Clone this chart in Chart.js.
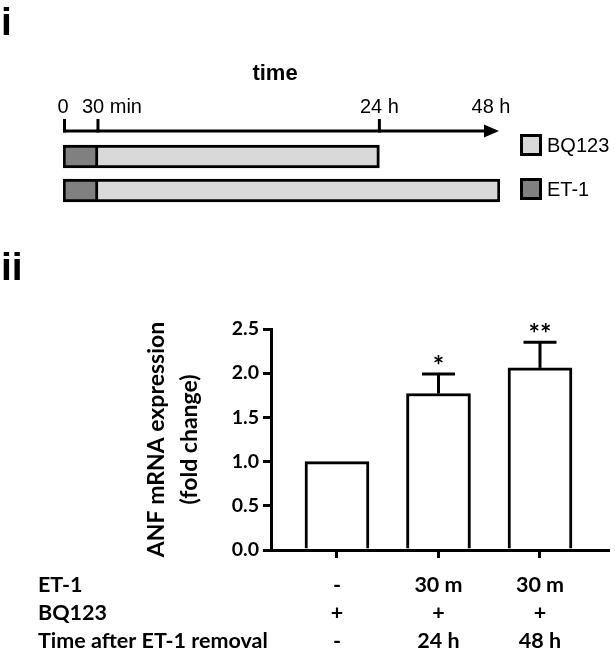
<!DOCTYPE html>
<html><head><meta charset="utf-8">
<script src="https://cdn.jsdelivr.net/npm/chart.js@4.4.1/dist/chart.umd.min.js"></script>
<style>
html,body{margin:0;padding:0;background:#fff;}
#wrap{position:relative;width:615px;height:653px;overflow:hidden;background:#fff;}
#cA{position:absolute;left:0;top:0;}
#cB{position:absolute;left:0;top:240px;}
</style></head><body>
<div id="wrap"><canvas id="cA" width="615" height="240"></canvas><canvas id="cB" width="615" height="413"></canvas></div>
<script>
// ---------- Panel i: treatment schedule ----------
const timeTicks = [0, 0.5, 24, 48];                 // hours
const timeTickLabels = ['0', '30 min', '24 h', '48 h'];
const scheduleRows = ['24 h', '48 h'];
const et1Span = [[0, 0.5], [0, 0.5]];
const bq123Span = [[0.5, 24], [0.5, 48]];

// ---------- Panel ii: ANF mRNA expression ----------
const groups = [1, 2, 3];
const anfMean = [1.00, 1.77, 2.06];
const anfSem = [0.00, 0.22, 0.29];
const significance = ['', '*', '**'];
const yTicks = [0, 0.5, 1.0, 1.5, 2.0, 2.5];
const rowHeaders = ['ET-1', 'BQ123', 'Time after ET-1 removal'];
const rowET1 = ['-', '30 m', '30 m'];
const rowBQ123 = ['+', '+', '+'];
const rowRemoval = ['-', '24 h', '48 h'];

const LATO = 'Lato, "Open Sans", sans-serif';
const ARIAL = '"Liberation Sans", Arial, sans-serif';

// schematic (non-proportional) time axis
const LinearScale = Chart.LinearScale || Chart.registry.getScale('linear');
class SchematicTimeScale extends LinearScale {
  _stops() { return [0, 0.08, 0.724, 1]; }
  getPixelForValue(v) {
    const d = this._stops(), t = timeTicks;
    let dec = 0;
    if (v <= t[0]) dec = d[0];
    else if (v >= t[t.length - 1]) dec = d[d.length - 1];
    else {
      for (let i = 1; i < t.length; i++) {
        if (v <= t[i]) { dec = d[i - 1] + (v - t[i - 1]) / (t[i] - t[i - 1]) * (d[i] - d[i - 1]); break; }
      }
    }
    return this.getPixelForDecimal(dec);
  }
}
SchematicTimeScale.id = 'schematicTime';
SchematicTimeScale.defaults = LinearScale.defaults;
Chart.register(SchematicTimeScale);

const timelinePlugin = {
  id: 'timeline',
  afterDraw(chart) {
    const ctx = chart.ctx, xs = chart.scales.x;
    const lineY = 131, tickTop = 119;
    ctx.save();
    ctx.strokeStyle = '#000'; ctx.fillStyle = '#000'; ctx.lineWidth = 3; ctx.lineCap = 'butt';
    const px = timeTicks.map(v => xs.getPixelForValue(v));
    const xEnd = px[px.length - 1] - 1;
    ctx.beginPath(); ctx.moveTo(px[0], lineY); ctx.lineTo(xEnd - 13, lineY); ctx.stroke();
    ctx.beginPath(); ctx.moveTo(xEnd - 15, lineY - 6.5); ctx.lineTo(xEnd, lineY); ctx.lineTo(xEnd - 15, lineY + 6.5); ctx.closePath(); ctx.fill();
    for (let i = 0; i < px.length - 1; i++) {
      const x = px[i] + (i === 0 ? 1.5 : 0);
      ctx.beginPath(); ctx.moveTo(x, tickTop); ctx.lineTo(x, lineY + 1.5); ctx.stroke();
    }
    ctx.font = '20px ' + ARIAL; ctx.textBaseline = 'alphabetic';
    const align = ['center', 'left', 'center', 'center'];
    const shift = [0, -16, 0, -9];
    timeTickLabels.forEach((lab, i) => { ctx.textAlign = align[i]; ctx.fillText(lab, px[i] + shift[i], 113); });
    ctx.font = 'bold 22px ' + ARIAL; ctx.textAlign = 'center';
    ctx.fillText('time', 275, 80);
    ctx.font = '20px ' + ARIAL; ctx.textAlign = 'left'; ctx.textBaseline = 'middle';
    const legendOrder = [1, 0];
    const boxY = [134, 178];
    legendOrder.forEach((di, k) => {
      const ds = chart.data.datasets[di];
      ctx.fillStyle = ds.backgroundColor; ctx.fillRect(520, boxY[k], 22, 22);
      ctx.lineWidth = 3; ctx.strokeStyle = '#000'; ctx.strokeRect(521.5, boxY[k] + 1.5, 19, 19);
      ctx.fillStyle = '#000'; ctx.fillText(ds.label, 547, boxY[k] + 12);
    });
    ctx.font = 'bold 39px ' + ARIAL; ctx.textBaseline = 'alphabetic'; ctx.textAlign = 'left';
    ctx.fillText('i', 1, 35);
    ctx.restore();
  }
};

new Chart(document.getElementById('cA'), {
  type: 'bar',
  data: {
    labels: scheduleRows,
    datasets: [
      { label: 'ET-1', data: et1Span, backgroundColor: '#808080', borderColor: '#000', borderWidth: 3, borderSkipped: false, barThickness: 23, grouped: false },
      { label: 'BQ123', data: bq123Span, backgroundColor: '#d9d9d9', borderColor: '#000', borderWidth: 3, borderSkipped: 'left', barThickness: 23, grouped: false }
    ]
  },
  options: {
    indexAxis: 'y', responsive: false, animation: false, devicePixelRatio: 1, events: [],
    layout: { padding: { left: 63, right: 115, top: 139.5, bottom: 32.5 } },
    plugins: { legend: { display: false }, tooltip: { enabled: false } },
    scales: {
      x: { type: 'schematicTime', min: 0, max: 48, display: false },
      y: { type: 'category', display: false, offset: true }
    }
  },
  plugins: [timelinePlugin]
});

// ---------- Chart B ----------
const X_TICK_LEN = 8, X_TICK_PAD = 13, X_FONT_SIZE = 21.5, X_LINE_H = 28 / 21.5;
const extrasPlugin = {
  id: 'extras',
  afterDatasetsDraw(chart) {
    const ctx = chart.ctx, xs = chart.scales.x, ys = chart.scales.y;
    ctx.save();
    ctx.strokeStyle = '#000'; ctx.fillStyle = '#000'; ctx.lineWidth = 3;
    anfMean.forEach((m, i) => {
      const x = xs.getPixelForValue(groups[i]);
      if (anfSem[i] > 0) {
        const yTop = ys.getPixelForValue(m + anfSem[i]);
        const yBar = ys.getPixelForValue(m);
        ctx.beginPath(); ctx.moveTo(x, yBar); ctx.lineTo(x, yTop); ctx.stroke();
        ctx.beginPath(); ctx.moveTo(x - 16.5, yTop); ctx.lineTo(x + 16.5, yTop); ctx.stroke();
        if (significance[i]) {
          ctx.font = 'bold 27px ' + LATO; ctx.textAlign = 'center'; ctx.textBaseline = 'alphabetic';
          ctx.fillText(significance[i], x, yTop + 1);
        }
      }
    });
    const lh = X_FONT_SIZE * X_LINE_H;
    const y0 = xs.top + X_TICK_LEN + X_TICK_PAD + lh / 2;
    ctx.font = 'bold ' + X_FONT_SIZE + 'px ' + LATO; ctx.textAlign = 'left'; ctx.textBaseline = 'middle';
    rowHeaders.forEach((h, i) => ctx.fillText(h, 38, y0 + i * lh));
    ctx.font = 'bold 39px ' + ARIAL; ctx.textBaseline = 'alphabetic';
    ctx.fillText('ii', 1, 40);
    ctx.restore();
  }
};

new Chart(document.getElementById('cB'), {
  type: 'bar',
  data: {
    datasets: [{
      label: 'ANF mRNA',
      data: groups.map((g, i) => ({ x: g, y: anfMean[i] })),
      backgroundColor: '#fff', borderColor: '#000', borderWidth: 3, barThickness: 64
    }]
  },
  options: {
    responsive: false, animation: false, devicePixelRatio: 1, events: [],
    layout: { padding: { left: 0, right: 7, top: 89, bottom: 0 } },
    plugins: { legend: { display: false }, tooltip: { enabled: false } },
    scales: {
      x: {
        type: 'linear', min: 0.35, max: 3.67, offset: false,
        afterBuildTicks: s => { s.ticks = groups.map(v => ({ value: v })); },
        afterFit: s => { s.height = 103; },
        grid: { display: true, offset: false, drawOnChartArea: false, drawTicks: true, tickLength: X_TICK_LEN, tickWidth: 3, tickColor: '#000', lineWidth: 3, color: '#000' },
        border: { display: true, width: 3, color: '#000' },
        ticks: {
          autoSkip: false, maxRotation: 0, padding: X_TICK_PAD, color: '#000',
          font: { family: LATO, size: X_FONT_SIZE, weight: 'bold', lineHeight: X_LINE_H },
          callback: (v, i) => [rowET1[i], rowBQ123[i], rowRemoval[i]]
        }
      },
      y: {
        type: 'linear', min: 0, max: 2.5,
        afterBuildTicks: s => { s.ticks = yTicks.map(v => ({ value: v })); },
        afterFit: s => { s.width = 271; },
        grid: { display: true, drawOnChartArea: false, drawTicks: true, tickLength: 8, tickWidth: 3, tickColor: '#000', lineWidth: 3, color: '#000' },
        border: { display: true, width: 3, color: '#000' },
        ticks: { padding: 4, color: '#000', font: { family: LATO, size: 19.5, weight: 'bold' }, callback: v => Number(v).toFixed(1) },
        title: {
          display: true, text: ['ANF mRNA expression', '(fold change)'], color: '#000',
          font: { family: LATO, size: 23, weight: 'bold', lineHeight: 33 / 23 },
          padding: { top: 140.5, bottom: 0 }
        }
      }
    }
  },
  plugins: [extrasPlugin]
});
</script>
</body></html>
